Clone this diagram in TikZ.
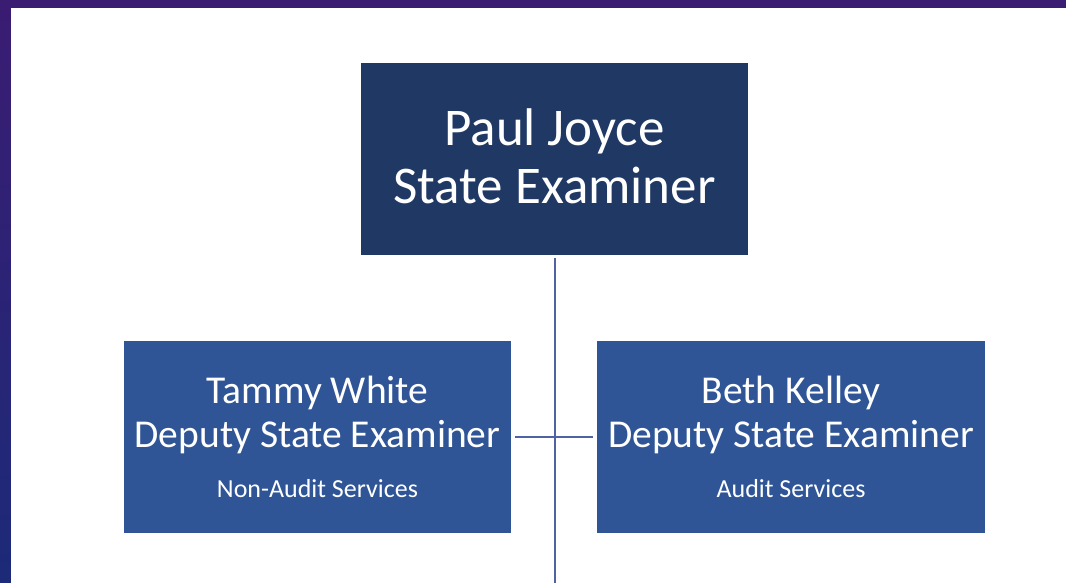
\documentclass[tikz,border=0pt]{standalone}
\usepackage{fontspec}
\setmainfont{Carlito}
\definecolor{topbox}{HTML}{203864}
\definecolor{childbox}{HTML}{2F5597}
\definecolor{conn}{HTML}{4F62A3}
\definecolor{bgA}{HTML}{3A1C72}
\definecolor{bgB}{HTML}{1C2A78}
\begin{document}
\begin{tikzpicture}[x=1pt,y=1pt,
  boxstyle/.style={draw=none, inner sep=0pt, minimum width=387pt, minimum height=192pt},
  bigtext/.style={text=white, inner sep=0pt, anchor=base, font=\fontsize{53}{58}\selectfont},
  midtext/.style={text=white, inner sep=0pt, anchor=base, font=\fontsize{39.5}{44}\selectfont},
  smalltext/.style={text=white, inner sep=0pt, anchor=base, font=\fontsize{26}{29}\selectfont},
  connector/.style={draw=conn, line width=2pt}]
\useasboundingbox (0,0) rectangle (1066,582);
\shade[top color=bgA, bottom color=bgB] (0,0) rectangle (1066,582);
\fill[white] (11,-2) rectangle (1068,574);
% boxes
\node[boxstyle, fill=topbox] (top) at (554.5,423) {};
\node[boxstyle, fill=childbox] (left) at (317.5,145) {};
\node[boxstyle, fill=childbox, minimum width=388pt] (right) at (791,145) {};
% texts
\node[bigtext] (t1) at (554.5,436) {Paul Joyce};
\node[bigtext] (t2) at (554.5,378) {State Examiner};
\node[midtext] (l1) at (317.5,179) {Tammy White};
\node[midtext] (l2) at (317.5,135) {Deputy State Examiner};
\node[smalltext] (l3) at (317.5,85) {Non-Audit Services};
\node[midtext] (r1) at (791,179) {Beth Kelley};
\node[midtext] (r2) at (791,135) {Deputy State Examiner};
\node[smalltext] (r3) at (791,85) {Audit Services};
% connectors
\coordinate (bottomend) at (554.5,-2);
\coordinate (topstart) at ([yshift=-3pt]top.south);
\draw[connector] (topstart) -- (bottomend);
\draw[connector] ([xshift=4pt]left.east) -- ([xshift=-4pt]right.west);
\end{tikzpicture}
\end{document}
